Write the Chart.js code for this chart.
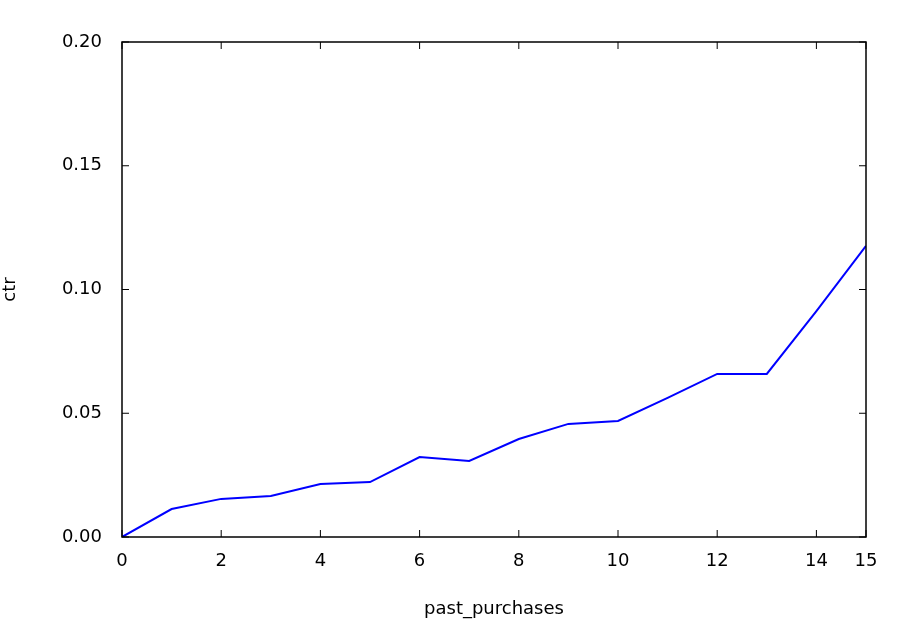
<!DOCTYPE html>
<html>
<head>
<script src="https://cdn.jsdelivr.net/npm/chart.js@4"></script>
<style>body{margin:0;background:#fff}</style>
</head>
<body>
<canvas id="c" width="910" height="622"></canvas>
<script>
const pastPurchases = [0, 1, 2, 3, 4, 5, 6, 7, 8, 9, 10, 11, 12, 13, 14, 15];
const ctrValues = [0.0, 0.0113, 0.0154, 0.0166, 0.0214, 0.0222, 0.0323, 0.0307, 0.0396, 0.0457, 0.0469, 0.0562, 0.0659, 0.0659, 0.0913, 0.1176];

const frame = {
  id: "frame",
  afterDraw(chart) {
    const { ctx, chartArea: a, scales } = chart;
    ctx.save();
    ctx.strokeStyle = "#000";
    ctx.lineWidth = 1.5;
    ctx.strokeRect(a.left, a.top, a.right - a.left, a.bottom - a.top);
    ctx.lineWidth = 1;
    scales.x.ticks.forEach((t) => {
      const x = scales.x.getPixelForValue(t.value);
      ctx.beginPath();
      ctx.moveTo(x, a.bottom); ctx.lineTo(x, a.bottom - 7);
      ctx.moveTo(x, a.top); ctx.lineTo(x, a.top + 7);
      ctx.stroke();
    });
    scales.y.ticks.forEach((t) => {
      const y = scales.y.getPixelForValue(t.value);
      ctx.beginPath();
      ctx.moveTo(a.left, y); ctx.lineTo(a.left + 7, y);
      ctx.moveTo(a.right, y); ctx.lineTo(a.right - 7, y);
      ctx.stroke();
    });
    ctx.restore();
  },
};

const font = { family: "DejaVu Sans", size: 18 };
new Chart(document.getElementById("c"), {
  type: "line",
  data: {
    datasets: [{
      data: pastPurchases.map((x, i) => ({ x: x, y: ctrValues[i] })),
      borderColor: "#0000ff",
      borderWidth: 2,
      pointRadius: 0,
      tension: 0,
    }],
  },
  options: {
    responsive: false,
    animation: false,
    layout: { padding: { top: 42, right: 44, left: 0, bottom: 0 } },
    plugins: { legend: { display: false }, tooltip: { enabled: false } },
    scales: {
      x: {
        type: "linear", min: 0, max: 15,
        grid: { display: false }, border: { display: false },
        ticks: { stepSize: 2, color: "#000", font: font, padding: 6, maxRotation: 0 },
        title: { display: true, text: "past_purchases", color: "#000", font: font, padding: 2 },
        afterFit: (s) => { s.height = 85; },
      },
      y: {
        min: 0, max: 0.2,
        grid: { display: false }, border: { display: false },
        ticks: { stepSize: 0.05, color: "#000", font: font, padding: 12,
          callback: (v) => v.toFixed(2) },
        title: { display: true, text: "ctr", color: "#000", font: font, padding: 0 },
        afterFit: (s) => { s.width = 122; },
      },
    },
  },
  plugins: [frame],
});
</script>
</body>
</html>
